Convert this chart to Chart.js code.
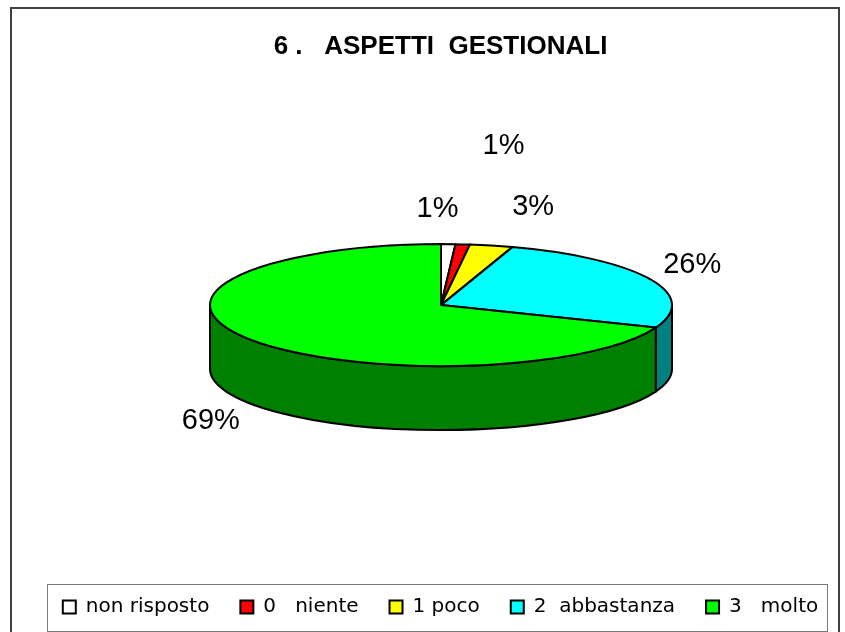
<!DOCTYPE html>
<html>
<head>
<meta charset="utf-8">
<script src="https://cdn.jsdelivr.net/npm/chart.js@4/dist/chart.umd.min.js"></script>
<style>
  html, body { margin: 0; padding: 0; background: #ffffff; }
  #wrap { position: relative; width: 845px; height: 632px; }
  canvas { display: block; }
</style>
</head>
<body>
<div id="wrap"><canvas id="c" width="845" height="632"></canvas></div>
<script>
// ---- data ----
const chartTitle = '6 .   ASPETTI  GESTIONALI';
const categories = ['non risposto', '0   niente', '1 poco', '2  abbastanza', '3   molto'];
const values = [1, 1, 3, 26, 69];
const topColors = ['#FFFFFF', '#FF0000', '#FFFF00', '#00FFFF', '#00FF00'];
const sideColors = ['#808080', '#800000', '#808000', '#008080', '#008000'];

const total = values.reduce((a, b) => a + b, 0);
const percentLabels = values.map(v => Math.round(v / total * 100) + '%');

// ---- 3D pie plugin (uses arc angles computed by Chart.js) ----
const pie3d = {
  id: 'pie3d',
  beforeDatasetDraw() { return false; },
  afterDatasetsDraw(chart, args, opts) {
    const ctx = chart.ctx;
    const meta = chart.getDatasetMeta(0);
    const arcs = meta.data;
    if (!arcs.length) return;
    const rx = arcs[0].outerRadius;
    const ry = rx * opts.tilt;
    const depth = opts.depth;
    const cx = arcs[0].x + opts.shiftX;
    const cy = arcs[0].y + opts.shiftY;
    ctx.save();
    ctx.lineWidth = 2;
    ctx.strokeStyle = '#000';
    ctx.lineJoin = 'round';
    // side walls (front half: canvas angles 0..PI)
    arcs.forEach((arc, i) => {
      const a = Math.max(arc.startAngle, 0);
      const b = Math.min(arc.endAngle, Math.PI);
      if (a >= b) return;
      ctx.beginPath();
      ctx.ellipse(cx, cy, rx, ry, 0, a, b, false);
      ctx.lineTo(cx + rx * Math.cos(b), cy + ry * Math.sin(b) + depth);
      ctx.ellipse(cx, cy + depth, rx, ry, 0, b, a, true);
      ctx.closePath();
      ctx.fillStyle = sideColors[i];
      ctx.fill();
      ctx.stroke();
    });
    // top faces
    arcs.forEach((arc, i) => {
      ctx.beginPath();
      ctx.moveTo(cx, cy);
      ctx.ellipse(cx, cy, rx, ry, 0, arc.startAngle, arc.endAngle, false);
      ctx.closePath();
      ctx.fillStyle = topColors[i];
      ctx.fill();
      ctx.stroke();
    });
    // percent labels
    ctx.fillStyle = '#000';
    ctx.font = opts.labelFont;
    ctx.textAlign = 'center';
    ctx.textBaseline = 'middle';
    arcs.forEach((arc, i) => {
      const m = (arc.startAngle + arc.endAngle) / 2;
      const s = Math.sin(m);
      let x = cx + (rx + 40) * Math.cos(m);
      let y = cy + (ry + 40) * s + (s > 0 ? depth : 0);
      const n = opts.labelNudge[i] || [0, 0];
      ctx.fillText(percentLabels[i], x + n[0], y + n[1]);
    });
    ctx.restore();
  }
};

// ---- frame + legend box ----
const frame = {
  id: 'frame',
  beforeDraw(chart) {
    const ctx = chart.ctx;
    ctx.save();
    ctx.fillStyle = '#fff';
    ctx.fillRect(0, 0, chart.width, chart.height);
    ctx.restore();
  },
  afterDraw(chart) {
    const ctx = chart.ctx;
    ctx.save();
    ctx.strokeStyle = '#404040';
    ctx.lineWidth = 2;
    ctx.strokeRect(11, 8, 828, 660);
    const lg = chart.legend;
    if (lg && lg.legendHitBoxes && lg.legendHitBoxes.length) {
      const hb = lg.legendHitBoxes;
      const first = hb[0], last = hb[hb.length - 1];
      const left = first.left - 16;
      const right = last.left + last.width + 9;
      const midY = first.top + first.height / 2;
      const top = midY - 23.5, bottom = midY + 23.5;
      ctx.lineWidth = 1;
      ctx.strokeStyle = '#7a7a7a';
      ctx.strokeRect(Math.round(left) + 0.5, Math.round(top) + 0.5, Math.round(right - left), Math.round(bottom - top));
      ctx.strokeStyle = '#a0a0a0';
      ctx.beginPath();
      ctx.moveTo(Math.round(left) + 1, Math.round(bottom) + 1.5);
      ctx.lineTo(Math.round(right) + 1, Math.round(bottom) + 1.5);
      ctx.stroke();
    }
    ctx.restore();
  }
};

new Chart(document.getElementById('c'), {
  type: 'pie',
  data: {
    labels: categories,
    datasets: [{
      data: values,
      backgroundColor: topColors,
      borderColor: '#000',
      borderWidth: 2,
      radius: 231
    }]
  },
  plugins: [frame, pie3d],
  options: {
    responsive: false,
    animation: false,
    devicePixelRatio: 1,
    layout: { padding: { left: 0, right: -36, top: 0, bottom: 5 } },
    plugins: {
      tooltip: { enabled: false },
      title: {
        display: true,
        text: chartTitle,
        color: '#000',
        font: { family: "'Liberation Sans', Arial, sans-serif", size: 26, weight: 'bold' },
        padding: { top: 31, bottom: 10 }
      },
      legend: {
        display: true,
        position: 'bottom',
        labels: {
          color: '#000',
          boxWidth: 13,
          boxHeight: 13,
          padding: 31,
          font: { family: "'DejaVu Sans', sans-serif", size: 20 },
          generateLabels(chart) {
            return categories.map((c, i) => ({
              text: c,
              fillStyle: topColors[i],
              strokeStyle: '#000',
              lineWidth: 2,
              hidden: false,
              index: i
            }));
          }
        }
      },
      pie3d: {
        tilt: 0.264,
        depth: 64,
        shiftX: 18.5,
        shiftY: -14,
        labelFont: "29px 'Liberation Sans', sans-serif",
        labelNudge: [[-12, 5], [37, -59], [33, 0], [6, 3], [-6, -5]]
      }
    }
  }
});
</script>
</body>
</html>
